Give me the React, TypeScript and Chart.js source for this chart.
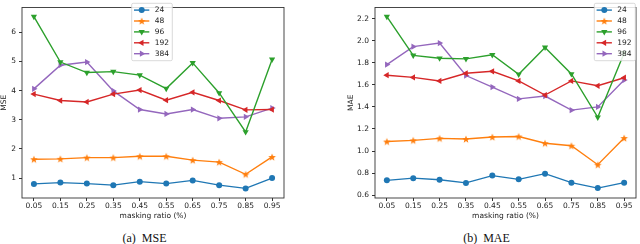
import React, { useEffect, useRef } from "react";
import { Chart, registerables } from "chart.js";
import { drawPoint } from "chart.js/helpers";

Chart.register(...registerables);

const ratios = [0.05, 0.15, 0.25, 0.35, 0.45, 0.55, 0.65, 0.75, 0.85, 0.95];
const ratioLabels = ["0.05", "0.15", "0.25", "0.35", "0.45", "0.55", "0.65", "0.75", "0.85", "0.95"];
const seriesNames = ["24", "48", "96", "192", "384"];
const seriesColors = ["#1f77b4", "#ff7f0e", "#2ca02c", "#d62728", "#9467bd"];

const mse24 = [0.8, 0.845, 0.81, 0.757, 0.878, 0.81, 0.92, 0.757, 0.647, 1.0];
const mse48 = [1.648, 1.659, 1.703, 1.703, 1.747, 1.747, 1.615, 1.549, 1.131, 1.725];
const mse96 = [6.54, 4.98, 4.62, 4.65, 4.53, 4.07, 4.95, 3.92, 2.58, 5.07];
const mse192 = [3.88, 3.66, 3.61, 3.88, 4.02, 3.67, 3.94, 3.66, 3.34, 3.35];
const mse384 = [4.06, 4.87, 4.98, 3.99, 3.35, 3.2, 3.35, 3.05, 3.1, 3.4];

const mae24 = [0.734, 0.754, 0.74, 0.711, 0.777, 0.743, 0.795, 0.713, 0.664, 0.713];
const mae48 = [1.086, 1.097, 1.115, 1.109, 1.127, 1.132, 1.071, 1.048, 0.876, 1.118];
const mae96 = [2.22, 1.868, 1.842, 1.836, 1.873, 1.696, 1.94, 1.699, 1.306, 1.89];
const mae192 = [1.688, 1.668, 1.636, 1.705, 1.723, 1.636, 1.508, 1.636, 1.592, 1.665];
const mae384 = [1.784, 1.947, 1.979, 1.685, 1.58, 1.473, 1.499, 1.371, 1.4, 1.644];

const mseTicks = [1, 2, 3, 4, 5, 6];
const mseTickLabels = ["1", "2", "3", "4", "5", "6"];
const maeTicks = [0.6, 0.8, 1.0, 1.2, 1.4, 1.6, 1.8, 2.0, 2.2];
const maeTickLabels = ["0.6", "0.8", "1.0", "1.2", "1.4", "1.6", "1.8", "2.0", "2.2"];

const FONT = "DejaVu Sans";
const FS = 7.5;

function makeStar(color: string, r: number) {
  const c = document.createElement("canvas");
  const size = Math.ceil(r * 2 + 2);
  c.width = size;
  c.height = size;
  const ctx = c.getContext("2d")!;
  ctx.translate(size / 2, size / 2 + 0.4);
  ctx.beginPath();
  for (let i = 0; i < 10; i++) {
    const a = -Math.PI / 2 + (i * Math.PI) / 5;
    const rr = i % 2 === 0 ? r : r * 0.42;
    ctx.lineTo(rr * Math.cos(a), rr * Math.sin(a));
  }
  ctx.closePath();
  ctx.fillStyle = color;
  ctx.fill();
  return c;
}

type Marker = { pointStyle: any; rotation: number; radius: number };

function markers(): Marker[] {
  return [
    { pointStyle: "circle", rotation: 0, radius: 3 },
    { pointStyle: makeStar(seriesColors[1], 4), rotation: 0, radius: 4 },
    { pointStyle: "triangle", rotation: 180, radius: 3.6 },
    { pointStyle: "triangle", rotation: -90, radius: 3.6 },
    { pointStyle: "triangle", rotation: 90, radius: 3.6 },
  ];
}

const framePlugin = {
  id: "frame",
  afterDatasetsDraw(chart: any) {
    const { ctx, chartArea } = chart;
    ctx.save();
    ctx.strokeStyle = "#333";
    ctx.lineWidth = 0.9;
    ctx.strokeRect(chartArea.left, chartArea.top, chartArea.right - chartArea.left, chartArea.bottom - chartArea.top);
    ctx.restore();
  },
};

const legendPlugin = {
  id: "boxLegend",
  afterDraw(chart: any, _args: any, opts: any) {
    const { ctx } = chart;
    const { x, y, w, h } = opts;
    ctx.save();
    ctx.fillStyle = "rgba(255,255,255,0.85)";
    ctx.strokeStyle = "#d0d0d0";
    ctx.lineWidth = 0.8;
    ctx.beginPath();
    const r = 1.5;
    ctx.moveTo(x + r, y);
    ctx.lineTo(x + w - r, y);
    ctx.quadraticCurveTo(x + w, y, x + w, y + r);
    ctx.lineTo(x + w, y + h - r);
    ctx.quadraticCurveTo(x + w, y + h, x + w - r, y + h);
    ctx.lineTo(x + r, y + h);
    ctx.quadraticCurveTo(x, y + h, x, y + h - r);
    ctx.lineTo(x, y + r);
    ctx.quadraticCurveTo(x, y, x + r, y);
    ctx.closePath();
    ctx.fill();
    ctx.stroke();
    chart.data.datasets.forEach((ds: any, i: number) => {
      const cy = y + 6.8 + i * 10.9;
      ctx.strokeStyle = ds.borderColor;
      ctx.fillStyle = ds.borderColor;
      ctx.lineWidth = 1.4;
      ctx.beginPath();
      ctx.moveTo(x + 2.3, cy);
      ctx.lineTo(x + 17.6, cy);
      ctx.stroke();
      drawPoint(ctx, { pointStyle: ds.pointStyle, rotation: ds.pointRotation, radius: ds.pointRadius, borderWidth: 0 }, x + 10, cy);
      ctx.fillStyle = "#222";
      ctx.font = `${FS}px "${FONT}"`;
      ctx.textBaseline = "middle";
      ctx.textAlign = "left";
      ctx.fillText(ds.label, x + 23, cy + 0.3);
    });
    ctx.restore();
  },
};

type PanelProps = {
  left: number;
  width: number;
  height: number;
  yWidth: number;
  padRight: number;
  xHeight: number;
  series: number[][];
  yTicks: number[];
  yTickLabels: string[];
  yMin: number;
  yMax: number;
  yTitle: string;
  legendBox: { x: number; y: number; w: number; h: number };
};

function Panel(p: PanelProps) {
  const ref = useRef<HTMLCanvasElement | null>(null);
  useEffect(() => {
    if (!ref.current) return;
    const mk = markers();
    const datasets = p.series.map((vals, i) => ({
      label: seriesNames[i],
      data: ratios.map((x, j) => ({ x, y: vals[j] })),
      borderColor: seriesColors[i],
      backgroundColor: seriesColors[i],
      borderWidth: 1.4,
      pointStyle: mk[i].pointStyle,
      pointRotation: mk[i].rotation,
      pointRadius: mk[i].radius,
      pointBorderWidth: 0,
      tension: 0,
    }));
    const tickFont = { family: FONT, size: FS };
    const chart = new Chart(ref.current, {
      type: "line",
      data: { datasets },
      options: {
        responsive: false,
        animation: false,
        devicePixelRatio: 1,
        layout: { padding: { left: 0, top: 1, right: p.padRight, bottom: 0 } },
        plugins: {
          legend: { display: false },
          tooltip: { enabled: false },
          boxLegend: p.legendBox,
        } as any,
        scales: {
          x: {
            type: "linear",
            min: 0.005,
            max: 0.995,
            afterBuildTicks: (s: any) => {
              s.ticks = ratios.map((v) => ({ value: v }));
            },
            afterFit: (s: any) => {
              s.height = p.xHeight;
            },
            ticks: {
              autoSkip: false,
              maxRotation: 0,
              minRotation: 0,
              padding: 1,
              color: "#222",
              font: tickFont,
              callback: (_v: any, i: number) => ratioLabels[i],
            },
            grid: { display: true, drawOnChartArea: false, drawTicks: true, tickLength: 3, tickColor: "#333" },
            border: { display: false },
            title: {
              display: true,
              text: "masking ratio (%)",
              color: "#222",
              font: { family: FONT, size: FS },
              padding: { top: 0, bottom: 5 },
            },
          },
          y: {
            type: "linear",
            min: p.yMin,
            max: p.yMax,
            afterBuildTicks: (s: any) => {
              s.ticks = p.yTicks.map((v) => ({ value: v }));
            },
            afterFit: (s: any) => {
              s.width = p.yWidth;
            },
            ticks: {
              autoSkip: false,
              padding: 3,
              color: "#222",
              font: tickFont,
              callback: (_v: any, i: number) => p.yTickLabels[i],
            },
            grid: { display: true, drawOnChartArea: false, drawTicks: true, tickLength: 3, tickColor: "#333" },
            border: { display: false },
            title: {
              display: true,
              text: p.yTitle,
              color: "#222",
              font: { family: FONT, size: FS },
              padding: { top: 0, bottom: 0 },
            },
          },
        },
      } as any,
      plugins: [framePlugin, legendPlugin],
    });
    return () => chart.destroy();
  }, []);
  return (
    <canvas
      ref={ref}
      width={p.width}
      height={p.height}
      style={{ position: "absolute", left: p.left, top: 0, width: p.width, height: p.height }}
    />
  );
}

export default function App() {
  const captionStyle: React.CSSProperties = {
    position: "absolute",
    top: 230,
    fontFamily: '"Liberation Serif", serif',
    fontSize: 12,
    lineHeight: "16px",
    textAlign: "center",
    whiteSpace: "pre",
    color: "#111",
  };
  return (
    <div style={{ position: "absolute", left: 0, top: 0, width: 640, height: 244, background: "#fff", overflow: "hidden" }}>
      <Panel
        left={0}
        width={300}
        height={226}
        yWidth={22}
        padRight={16}
        xHeight={28}
        series={[mse24, mse48, mse96, mse192, mse384]}
        yTicks={mseTicks}
        yTickLabels={mseTickLabels}
        yMin={0.317}
        yMax={6.85}
        yTitle="MSE"
        legendBox={{ x: 131.7, y: 3.3, w: 40.6, h: 57.4 }}
      />
      <Panel
        left={347}
        width={293}
        height={226}
        yWidth={28}
        padRight={1}
        xHeight={28}
        series={[mae24, mae48, mae96, mae192, mae384]}
        yTicks={maeTicks}
        yTickLabels={maeTickLabels}
        yMin={0.574}
        yMax={2.302}
        yTitle="MAE"
        legendBox={{ x: 247.3, y: 3.3, w: 41, h: 57.4 }}
      />
      <div style={{ ...captionStyle, left: 0, width: 289 }}>{"(a)  MSE"}</div>
      <div style={{ ...captionStyle, left: 320, width: 333 }}>{"(b)  MAE"}</div>
    </div>
  );
}
